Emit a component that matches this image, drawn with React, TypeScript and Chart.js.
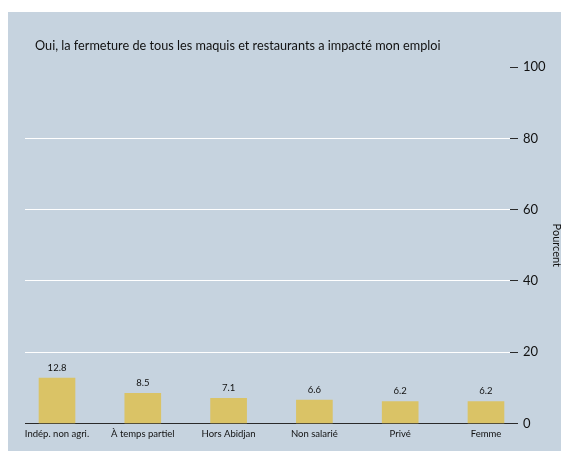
import React, { useEffect, useRef } from "react";
import { Chart, registerables } from "chart.js";

Chart.register(...registerables);

const titleText = "Oui, la fermeture de tous les maquis et restaurants a impacté mon emploi";
const categories = ["Indép. non agri.", "À temps partiel", "Hors Abidjan", "Non salarié", "Privé", "Femme"];
const values = [12.8, 8.5, 7.1, 6.6, 6.2, 6.2];
const yTicks = [0, 20, 40, 60, 80, 100];
const yTitle = "Pourcent";

const FONT = "Lato, 'DejaVu Sans', sans-serif";
const BG = "#c6d3df";
const BAR = "#dac366";
const DARK = "#2a2a2a";

const titlePlugin = {
  id: "customTitle",
  afterDraw(chart: any) {
    const ctx = chart.ctx;
    ctx.save();
    ctx.font = `12.7px ${FONT}`;
    ctx.fillStyle = "#111";
    ctx.textAlign = "left";
    ctx.textBaseline = "alphabetic";
    ctx.fillText(titleText, chart.chartArea.left + 10, 38);
    ctx.restore();
  },
};

const valueLabelPlugin = {
  id: "valueLabels",
  afterDatasetsDraw(chart: any) {
    const ctx = chart.ctx;
    const meta = chart.getDatasetMeta(0);
    ctx.save();
    ctx.font = `9.5px ${FONT}`;
    ctx.fillStyle = "#111";
    ctx.textAlign = "center";
    ctx.textBaseline = "alphabetic";
    meta.data.forEach((el: any, i: number) => {
      ctx.fillText(values[i].toFixed(1), el.x, el.y - 7);
    });
    ctx.restore();
  },
};

export default function App() {
  const ref = useRef<HTMLCanvasElement | null>(null);
  useEffect(() => {
    document.body.style.overflow = "hidden";
    const chart = new Chart(ref.current as HTMLCanvasElement, {
      type: "bar",
      data: {
        datasets: [
          {
            data: values.map((v, i) => ({ x: i, y: v })),
            backgroundColor: BAR,
            barThickness: 36,
          },
        ],
      },
      options: {
        animation: false,
        responsive: false,
        layout: { padding: { left: 17, right: 4, top: 55, bottom: 6 } },
        plugins: { legend: { display: false }, tooltip: { enabled: false }, title: { display: false } },
        scales: {
          x: {
            type: "linear",
            offset: false,
            min: -0.373,
            max: 5.28,
            grid: { display: false, drawTicks: false, offset: false },
            border: { display: false },
            afterBuildTicks: (scale: any) => {
              scale.ticks = categories.map((_, i) => ({ value: i }));
            },
            ticks: {
              autoSkip: false,
              maxRotation: 0,
              padding: 5,
              color: "#111",
              font: { family: FONT, size: 9.5 },
              callback: (v: any) => categories[v] ?? "",
            },
          },
          y: {
            position: "right",
            min: 0,
            max: 100,
            afterBuildTicks: (scale: any) => {
              scale.ticks = yTicks.map((v) => ({ value: v }));
            },
            afterFit: (scale: any) => {
              scale.width = 55;
            },
            border: { display: false },
            grid: {
              color: (c: any) =>
                c.tick && c.tick.value === 0 ? DARK : c.tick && c.tick.value === 100 ? "rgba(0,0,0,0)" : "#ffffff",
              tickColor: DARK,
              tickLength: 8,
              lineWidth: 1,
            },
            ticks: {
              padding: 5,
              color: "#111",
              font: { family: FONT, size: 13 },
            },
            title: {
              display: true,
              text: yTitle,
              color: "#111",
              font: { family: FONT, size: 11 },
              padding: { top: 2, bottom: 6 },
            },
          },
        },
      },
      plugins: [titlePlugin, valueLabelPlugin],
    } as any);
    return () => chart.destroy();
  }, []);
  return (
    <div style={{ paddingTop: 4 }}>
      <canvas ref={ref} width={561} height={439} style={{ display: "block", background: BG }} />
    </div>
  );
}
